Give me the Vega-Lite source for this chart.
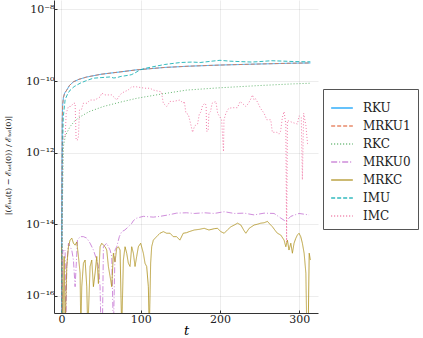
{
"$schema":"https://vega.github.io/schema/vega-lite/v6.json",
"autosize":{"type":"none"},
"padding":{"left":54,"top":0,"right":105,"bottom":25},
"width":264,"height":313,
"background":"white",
"config":{"font":"DejaVu Serif","view":{"stroke":null},
"axis":{"labelFont":"DejaVu Serif","labelFontSize":11,"labelColor":"#222","domainColor":"#333","tickColor":"#333","gridColor":"#000","gridOpacity":0.07,"tickSize":-3}},
"data":{"values":[
{"s":"RKU","t":0.1,"v":1e-17},{"s":"RKU","t":0.5,"v":1e-13},{"s":"RKU","t":1,"v":8e-12},{"s":"RKU","t":1.5,"v":2.2e-11},{"s":"RKU","t":2.5,"v":3.5e-11},{"s":"RKU","t":4,"v":4.6e-11},{"s":"RKU","t":6.7,"v":5.6e-11},{"s":"RKU","t":10,"v":7.5e-11},{"s":"RKU","t":15,"v":9.5e-11},{"s":"RKU","t":22,"v":1.12e-10},{"s":"RKU","t":32,"v":1.3e-10},{"s":"RKU","t":50,"v":1.55e-10},{"s":"RKU","t":74,"v":1.8e-10},{"s":"RKU","t":94,"v":2.05e-10},{"s":"RKU","t":130,"v":2.4e-10},{"s":"RKU","t":160,"v":2.6e-10},{"s":"RKU","t":200,"v":2.8e-10},{"s":"RKU","t":250,"v":3e-10},{"s":"RKU","t":290,"v":3.15e-10},{"s":"RKU","t":314,"v":3.2e-10},
{"s":"MRKU1","t":0.1,"v":1e-17},{"s":"MRKU1","t":0.5,"v":1e-13},{"s":"MRKU1","t":1,"v":8e-12},{"s":"MRKU1","t":1.5,"v":2.2e-11},{"s":"MRKU1","t":2.5,"v":3.5e-11},{"s":"MRKU1","t":4,"v":4.6e-11},{"s":"MRKU1","t":6.7,"v":5.6e-11},{"s":"MRKU1","t":10,"v":7.5e-11},{"s":"MRKU1","t":15,"v":9.5e-11},{"s":"MRKU1","t":22,"v":1.12e-10},{"s":"MRKU1","t":32,"v":1.3e-10},{"s":"MRKU1","t":50,"v":1.55e-10},{"s":"MRKU1","t":74,"v":1.8e-10},{"s":"MRKU1","t":94,"v":2.05e-10},{"s":"MRKU1","t":130,"v":2.4e-10},{"s":"MRKU1","t":160,"v":2.6e-10},{"s":"MRKU1","t":200,"v":2.8e-10},{"s":"MRKU1","t":250,"v":3e-10},{"s":"MRKU1","t":290,"v":3.15e-10},{"s":"MRKU1","t":314,"v":3.2e-10},
{"s":"RKC","t":0.5,"v":1e-17},{"s":"RKC","t":1,"v":1e-14},{"s":"RKC","t":1.5,"v":1e-13},{"s":"RKC","t":2.5,"v":1.5e-12},{"s":"RKC","t":5,"v":3e-12},{"s":"RKC","t":11,"v":5.4e-12},{"s":"RKC","t":17,"v":7.8e-12},{"s":"RKC","t":23.5,"v":1e-11},{"s":"RKC","t":35,"v":1.4e-11},{"s":"RKC","t":53,"v":1.95e-11},{"s":"RKC","t":75,"v":2.6e-11},{"s":"RKC","t":95,"v":3.3e-11},{"s":"RKC","t":125,"v":4.3e-11},{"s":"RKC","t":158,"v":5.6e-11},{"s":"RKC","t":200,"v":6.5e-11},{"s":"RKC","t":250,"v":7.5e-11},{"s":"RKC","t":290,"v":8.3e-11},{"s":"RKC","t":314,"v":8.7e-11},
{"s":"MRKU0","t":0.5,"v":1e-17},{"s":"MRKU0","t":1.7,"v":1.9e-15},{"s":"MRKU0","t":3.4,"v":1.7e-15},{"s":"MRKU0","t":4.6,"v":1.9e-15},{"s":"MRKU0","t":5.5,"v":1e-17},{"s":"MRKU0","t":6.7,"v":6.6e-16},{"s":"MRKU0","t":8.8,"v":2.95e-15},{"s":"MRKU0","t":10.9,"v":2.35e-15},{"s":"MRKU0","t":13,"v":1.9e-15},{"s":"MRKU0","t":15.1,"v":1e-15},{"s":"MRKU0","t":17.2,"v":1.8e-16},{"s":"MRKU0","t":18.5,"v":6.6e-16},{"s":"MRKU0","t":20.2,"v":3.6e-15},{"s":"MRKU0","t":23.5,"v":4.5e-15},{"s":"MRKU0","t":27.7,"v":4.5e-15},{"s":"MRKU0","t":31.9,"v":4.1e-15},{"s":"MRKU0","t":36.1,"v":2.95e-15},{"s":"MRKU0","t":40.3,"v":1.9e-15},{"s":"MRKU0","t":44.5,"v":1e-15},{"s":"MRKU0","t":46.6,"v":6.6e-16},{"s":"MRKU0","t":48.7,"v":1.8e-16},{"s":"MRKU0","t":49.9,"v":1e-17},{"s":"MRKU0","t":51.6,"v":1e-17},{"s":"MRKU0","t":52.9,"v":2.35e-15},{"s":"MRKU0","t":57,"v":2.95e-15},{"s":"MRKU0","t":61.3,"v":1.9e-15},{"s":"MRKU0","t":63.4,"v":1.26e-15},{"s":"MRKU0","t":65.5,"v":1e-17},{"s":"MRKU0","t":67.6,"v":1.9e-15},{"s":"MRKU0","t":69.7,"v":2.35e-15},{"s":"MRKU0","t":73,"v":4.5e-15},{"s":"MRKU0","t":76,"v":6.2e-15},{"s":"MRKU0","t":80,"v":6.9e-15},{"s":"MRKU0","t":84.4,"v":8.5e-15},{"s":"MRKU0","t":88.6,"v":1.05e-14},{"s":"MRKU0","t":90.7,"v":1.26e-14},{"s":"MRKU0","t":94.9,"v":1.48e-14},{"s":"MRKU0","t":103.3,"v":1.66e-14},{"s":"MRKU0","t":115.9,"v":1.58e-14},{"s":"MRKU0","t":124.3,"v":1.66e-14},{"s":"MRKU0","t":134.8,"v":1.82e-14},{"s":"MRKU0","t":145.2,"v":2.04e-14},{"s":"MRKU0","t":157.8,"v":2.09e-14},{"s":"MRKU0","t":167.5,"v":2e-14},{"s":"MRKU0","t":180,"v":2.09e-14},{"s":"MRKU0","t":192.7,"v":2e-14},{"s":"MRKU0","t":205.3,"v":2.24e-14},{"s":"MRKU0","t":218,"v":2e-14},{"s":"MRKU0","t":230.5,"v":2.04e-14},{"s":"MRKU0","t":243,"v":1.82e-14},{"s":"MRKU0","t":255.6,"v":2.04e-14},{"s":"MRKU0","t":268.2,"v":2e-14},{"s":"MRKU0","t":276.7,"v":1.48e-14},{"s":"MRKU0","t":283,"v":1.2e-14},{"s":"MRKU0","t":289.3,"v":1.66e-14},{"s":"MRKU0","t":299.7,"v":2e-14},{"s":"MRKU0","t":312.3,"v":1.82e-14},
{"s":"MRKC","t":0.1,"v":2.35e-15},{"s":"MRKC","t":1.7,"v":1e-17},{"s":"MRKC","t":3.4,"v":1.26e-15},{"s":"MRKC","t":4.6,"v":1e-17},{"s":"MRKC","t":6.7,"v":6.6e-16},{"s":"MRKC","t":8.8,"v":2.35e-15},{"s":"MRKC","t":10.9,"v":3.6e-15},{"s":"MRKC","t":13,"v":4.1e-15},{"s":"MRKC","t":15.1,"v":2.95e-15},{"s":"MRKC","t":17.2,"v":2.6e-15},{"s":"MRKC","t":19.3,"v":3.2e-15},{"s":"MRKC","t":21.4,"v":1.26e-15},{"s":"MRKC","t":23.5,"v":4.3e-16},{"s":"MRKC","t":24.4,"v":1e-17},{"s":"MRKC","t":25.6,"v":1.8e-16},{"s":"MRKC","t":27.7,"v":8.1e-16},{"s":"MRKC","t":29.8,"v":1e-15},{"s":"MRKC","t":31.9,"v":1.8e-16},{"s":"MRKC","t":33.2,"v":1e-17},{"s":"MRKC","t":36.1,"v":6.6e-16},{"s":"MRKC","t":38.2,"v":1e-15},{"s":"MRKC","t":40.3,"v":1.8e-16},{"s":"MRKC","t":42.4,"v":4.3e-16},{"s":"MRKC","t":44.5,"v":1.26e-15},{"s":"MRKC","t":46.6,"v":2.2e-16},{"s":"MRKC","t":48.7,"v":2.35e-15},{"s":"MRKC","t":50.8,"v":2.95e-15},{"s":"MRKC","t":52.9,"v":2.6e-15},{"s":"MRKC","t":55,"v":2.35e-15},{"s":"MRKC","t":57.1,"v":1.9e-15},{"s":"MRKC","t":59.2,"v":6.6e-16},{"s":"MRKC","t":61.3,"v":3.5e-16},{"s":"MRKC","t":63.4,"v":1.8e-16},{"s":"MRKC","t":65.5,"v":1.55e-15},{"s":"MRKC","t":67.6,"v":8.9e-16},{"s":"MRKC","t":69.7,"v":2.1e-15},{"s":"MRKC","t":71.8,"v":2.35e-15},{"s":"MRKC","t":73.9,"v":1.9e-15},{"s":"MRKC","t":76,"v":1e-17},{"s":"MRKC","t":78.1,"v":1e-15},{"s":"MRKC","t":80.2,"v":2.35e-15},{"s":"MRKC","t":82.3,"v":1.55e-15},{"s":"MRKC","t":84.4,"v":8.1e-16},{"s":"MRKC","t":86.5,"v":6.6e-16},{"s":"MRKC","t":88.6,"v":2.35e-15},{"s":"MRKC","t":90.7,"v":1.55e-15},{"s":"MRKC","t":92.8,"v":6.6e-16},{"s":"MRKC","t":94.9,"v":1.26e-15},{"s":"MRKC","t":97,"v":2.35e-15},{"s":"MRKC","t":99.9,"v":2.95e-15},{"s":"MRKC","t":103.3,"v":1.55e-15},{"s":"MRKC","t":105.4,"v":8.1e-16},{"s":"MRKC","t":107.5,"v":6.6e-16},{"s":"MRKC","t":109.6,"v":1.8e-16},{"s":"MRKC","t":110.8,"v":1e-17},{"s":"MRKC","t":112.5,"v":8.1e-16},{"s":"MRKC","t":113.8,"v":2.35e-15},{"s":"MRKC","t":115.9,"v":3.6e-15},{"s":"MRKC","t":120,"v":4.5e-15},{"s":"MRKC","t":124.3,"v":5.6e-15},{"s":"MRKC","t":128.5,"v":6.2e-15},{"s":"MRKC","t":132.7,"v":5.6e-15},{"s":"MRKC","t":137,"v":5.6e-15},{"s":"MRKC","t":141,"v":4.5e-15},{"s":"MRKC","t":145.2,"v":4.5e-15},{"s":"MRKC","t":149.4,"v":3.6e-15},{"s":"MRKC","t":153.6,"v":5.6e-15},{"s":"MRKC","t":157.8,"v":5.8e-15},{"s":"MRKC","t":161,"v":6.2e-15},{"s":"MRKC","t":167.5,"v":6.9e-15},{"s":"MRKC","t":174,"v":7.2e-15},{"s":"MRKC","t":180,"v":7.7e-15},{"s":"MRKC","t":186,"v":6.9e-15},{"s":"MRKC","t":192.7,"v":7.5e-15},{"s":"MRKC","t":196.9,"v":7.7e-15},{"s":"MRKC","t":201,"v":6.2e-15},{"s":"MRKC","t":205.3,"v":5.6e-15},{"s":"MRKC","t":209.5,"v":7e-15},{"s":"MRKC","t":213.7,"v":8.5e-15},{"s":"MRKC","t":218,"v":9.5e-15},{"s":"MRKC","t":222.1,"v":1.07e-14},{"s":"MRKC","t":226.3,"v":9.5e-15},{"s":"MRKC","t":230.5,"v":6.5e-15},{"s":"MRKC","t":232.6,"v":5.6e-15},{"s":"MRKC","t":236.8,"v":7.7e-15},{"s":"MRKC","t":243,"v":9.5e-15},{"s":"MRKC","t":247.2,"v":1e-14},{"s":"MRKC","t":251.4,"v":1.07e-14},{"s":"MRKC","t":255.6,"v":1.1e-14},{"s":"MRKC","t":259.8,"v":1.2e-14},{"s":"MRKC","t":263,"v":1e-14},{"s":"MRKC","t":266.1,"v":8.5e-15},{"s":"MRKC","t":270,"v":6.5e-15},{"s":"MRKC","t":272.4,"v":5.6e-15},{"s":"MRKC","t":276.6,"v":5e-15},{"s":"MRKC","t":280.8,"v":3.6e-15},{"s":"MRKC","t":283,"v":2.35e-15},{"s":"MRKC","t":285,"v":3.6e-15},{"s":"MRKC","t":287,"v":1.9e-15},{"s":"MRKC","t":289.3,"v":2.95e-15},{"s":"MRKC","t":291.3,"v":1.55e-15},{"s":"MRKC","t":293.4,"v":2.95e-15},{"s":"MRKC","t":295.5,"v":4e-15},{"s":"MRKC","t":297.6,"v":5e-15},{"s":"MRKC","t":299.7,"v":5.6e-15},{"s":"MRKC","t":301.8,"v":4.5e-15},{"s":"MRKC","t":303.9,"v":2.95e-15},{"s":"MRKC","t":306.1,"v":1.55e-15},{"s":"MRKC","t":308.3,"v":4.3e-16},{"s":"MRKC","t":309.5,"v":1e-17},{"s":"MRKC","t":311.2,"v":1e-17},{"s":"MRKC","t":312.5,"v":1.55e-15},{"s":"MRKC","t":314,"v":1e-15},
{"s":"IMU","t":0.2,"v":1e-17},{"s":"IMU","t":0.6,"v":1e-14},{"s":"IMU","t":1.2,"v":1e-12},{"s":"IMU","t":2.3,"v":1e-11},{"s":"IMU","t":4.6,"v":3e-11},{"s":"IMU","t":8,"v":4.5e-11},{"s":"IMU","t":11,"v":5.6e-11},{"s":"IMU","t":16,"v":7e-11},{"s":"IMU","t":23.5,"v":8.7e-11},{"s":"IMU","t":30,"v":1e-10},{"s":"IMU","t":40,"v":1.2e-10},{"s":"IMU","t":50,"v":1.25e-10},{"s":"IMU","t":61,"v":1.3e-10},{"s":"IMU","t":66,"v":1.22e-10},{"s":"IMU","t":70,"v":1.25e-10},{"s":"IMU","t":75,"v":1.35e-10},{"s":"IMU","t":80,"v":1.4e-10},{"s":"IMU","t":88,"v":1.5e-10},{"s":"IMU","t":93,"v":1.7e-10},{"s":"IMU","t":99,"v":2.05e-10},{"s":"IMU","t":107,"v":2.3e-10},{"s":"IMU","t":115,"v":2.5e-10},{"s":"IMU","t":130,"v":2.9e-10},{"s":"IMU","t":150,"v":3.3e-10},{"s":"IMU","t":165,"v":3.4e-10},{"s":"IMU","t":175,"v":3.3e-10},{"s":"IMU","t":190,"v":3.6e-10},{"s":"IMU","t":200,"v":3.8e-10},{"s":"IMU","t":212,"v":3.6e-10},{"s":"IMU","t":225,"v":3.5e-10},{"s":"IMU","t":240,"v":3.4e-10},{"s":"IMU","t":250,"v":3.5e-10},{"s":"IMU","t":265,"v":3.7e-10},{"s":"IMU","t":280,"v":3.6e-10},{"s":"IMU","t":295,"v":3.5e-10},{"s":"IMU","t":314,"v":3.45e-10},
{"s":"IMC","t":0.3,"v":1e-17},{"s":"IMC","t":1,"v":1e-13},{"s":"IMC","t":1.7,"v":2.24e-12},{"s":"IMC","t":3,"v":2.8e-12},{"s":"IMC","t":4.6,"v":2.8e-12},{"s":"IMC","t":6,"v":1.26e-11},{"s":"IMC","t":8.8,"v":1.95e-11},{"s":"IMC","t":12,"v":1.95e-11},{"s":"IMC","t":15,"v":2.4e-11},{"s":"IMC","t":17.2,"v":2.4e-11},{"s":"IMC","t":18.5,"v":2.24e-12},{"s":"IMC","t":20,"v":2.24e-12},{"s":"IMC","t":21.4,"v":2.8e-12},{"s":"IMC","t":22.7,"v":1.55e-11},{"s":"IMC","t":25,"v":1.55e-11},{"s":"IMC","t":27.7,"v":2.4e-11},{"s":"IMC","t":32,"v":2.4e-11},{"s":"IMC","t":36.1,"v":2.95e-11},{"s":"IMC","t":42,"v":2.95e-11},{"s":"IMC","t":48.7,"v":3.6e-11},{"s":"IMC","t":50.8,"v":4.6e-11},{"s":"IMC","t":55,"v":4.1e-11},{"s":"IMC","t":63.4,"v":4.1e-11},{"s":"IMC","t":66,"v":3.6e-11},{"s":"IMC","t":69.7,"v":2.95e-11},{"s":"IMC","t":72,"v":3.6e-11},{"s":"IMC","t":76,"v":4.6e-11},{"s":"IMC","t":80,"v":5.1e-11},{"s":"IMC","t":84,"v":5.6e-11},{"s":"IMC","t":88.6,"v":6.9e-11},{"s":"IMC","t":95,"v":6.9e-11},{"s":"IMC","t":105,"v":6.3e-11},{"s":"IMC","t":111.7,"v":6.3e-11},{"s":"IMC","t":115.9,"v":5.6e-11},{"s":"IMC","t":124.3,"v":5.1e-11},{"s":"IMC","t":126,"v":5e-11},{"s":"IMC","t":128.5,"v":2.4e-11},{"s":"IMC","t":132.7,"v":1.95e-11},{"s":"IMC","t":137,"v":2.7e-11},{"s":"IMC","t":141,"v":2.7e-11},{"s":"IMC","t":149.4,"v":2.95e-11},{"s":"IMC","t":153.6,"v":2.4e-11},{"s":"IMC","t":155,"v":2.7e-11},{"s":"IMC","t":157,"v":1.26e-11},{"s":"IMC","t":160,"v":1.17e-11},{"s":"IMC","t":163,"v":6.3e-12},{"s":"IMC","t":165.4,"v":3.7e-12},{"s":"IMC","t":168,"v":5.6e-12},{"s":"IMC","t":171.7,"v":6.3e-12},{"s":"IMC","t":173.8,"v":1.17e-11},{"s":"IMC","t":176,"v":1.4e-11},{"s":"IMC","t":178,"v":2.1e-11},{"s":"IMC","t":181,"v":2.4e-11},{"s":"IMC","t":182.5,"v":2.1e-11},{"s":"IMC","t":183,"v":4e-12},{"s":"IMC","t":185,"v":4e-12},{"s":"IMC","t":186,"v":1.26e-11},{"s":"IMC","t":188,"v":1.4e-11},{"s":"IMC","t":190,"v":2.4e-11},{"s":"IMC","t":194.8,"v":2.7e-11},{"s":"IMC","t":197,"v":1.26e-11},{"s":"IMC","t":202,"v":8.3e-12},{"s":"IMC","t":204.4,"v":1.07e-12},{"s":"IMC","t":205,"v":8.3e-12},{"s":"IMC","t":207.4,"v":1.26e-11},{"s":"IMC","t":211,"v":1.74e-11},{"s":"IMC","t":215.8,"v":1.8e-11},{"s":"IMC","t":222,"v":1.8e-11},{"s":"IMC","t":225.4,"v":2.7e-11},{"s":"IMC","t":228,"v":2.4e-11},{"s":"IMC","t":232.6,"v":1.95e-11},{"s":"IMC","t":236,"v":2.4e-11},{"s":"IMC","t":238.9,"v":3.2e-11},{"s":"IMC","t":241,"v":4.1e-11},{"s":"IMC","t":243,"v":2.95e-11},{"s":"IMC","t":245,"v":3.2e-11},{"s":"IMC","t":248,"v":2.4e-11},{"s":"IMC","t":251,"v":1.74e-11},{"s":"IMC","t":255.6,"v":1.26e-11},{"s":"IMC","t":259,"v":8.3e-12},{"s":"IMC","t":264,"v":8.3e-12},{"s":"IMC","t":266,"v":3.7e-12},{"s":"IMC","t":272,"v":3.7e-12},{"s":"IMC","t":274.5,"v":3.3e-12},{"s":"IMC","t":276.5,"v":4e-12},{"s":"IMC","t":278.6,"v":9.5e-12},{"s":"IMC","t":280.8,"v":1.4e-11},{"s":"IMC","t":283,"v":6.3e-12},{"s":"IMC","t":284,"v":3.2e-15},{"s":"IMC","t":285,"v":7.9e-12},{"s":"IMC","t":287.1,"v":7.6e-12},{"s":"IMC","t":292,"v":6.9e-12},{"s":"IMC","t":297.6,"v":6.3e-12},{"s":"IMC","t":299.7,"v":1.07e-11},{"s":"IMC","t":302.5,"v":9.5e-12},{"s":"IMC","t":303.9,"v":1.74e-13},{"s":"IMC","t":305.5,"v":1.26e-11},{"s":"IMC","t":308.3,"v":5.75e-12},{"s":"IMC","t":310.4,"v":1.78e-12},{"s":"IMC","t":312.5,"v":1.78e-12}
]},
"mark":{"type":"line","clip":true,"strokeWidth":1,"opacity":0.8},
"encoding":{
"x":{"field":"t","type":"quantitative","scale":{"domain":[-9.42,323.6],"nice":false,"zero":false},
 "axis":{"values":[0,100,200,300],"format":"d","title":"t","titleFontStyle":"italic","titleFontWeight":"normal","titleFont":"DejaVu Serif","titleFontSize":13,"labelPadding":3,"titlePadding":0,"grid":true}},
"y":{"field":"v","type":"quantitative","scale":{"type":"log","domain":[3.31e-17,1.84e-8],"nice":false},
 "axis":{"values":[1e-16,1e-14,1e-12,1e-10,1e-8],"grid":true,"labelPadding":3,
 "labelExpr":"round(log(datum.value)/LN10)==-8?'10⁻⁸':round(log(datum.value)/LN10)==-10?'10⁻¹⁰':round(log(datum.value)/LN10)==-12?'10⁻¹²':round(log(datum.value)/LN10)==-14?'10⁻¹⁴':'10⁻¹⁶'",
 "title":"|(ℰₜₒₜ(t) − ℰₜₒₜ(0)) / ℰₜₒₜ(0)|","titleFont":"DejaVu Serif","titleFontSize":8,"titleFontWeight":"normal","titleX":-46,"titleY":165,"titleAngle":270,"titleAlign":"center","titleBaseline":"middle"}},
"color":{"field":"s","type":"nominal","scale":{"domain":["RKU","MRKU1","RKC","MRKU0","MRKC","IMU","IMC"],"range":["#009AFA","#E36F47","#3EA44E","#C371D2","#AC8E18","#00AAAE","#ED5E93"]},
 "legend":{"title":null,"orient":"none","legendX":269,"legendY":89,"padding":7,"strokeColor":"#555","fillColor":"white","labelFont":"DejaVu Serif","labelFontSize":12,"labelColor":"#222","symbolType":"stroke","symbolSize":470,"symbolStrokeWidth":1.6,"rowPadding":0,"labelOffset":9}},
"strokeDash":{"field":"s","type":"nominal","scale":{"domain":["RKU","MRKU1","RKC","MRKU0","MRKC","IMU","IMC"],"range":[[1,0],[4,2],[1,2],[6,2,1,2],[1,0],[4,2],[1,2]]},"legend":{"title":null}}
}
}
